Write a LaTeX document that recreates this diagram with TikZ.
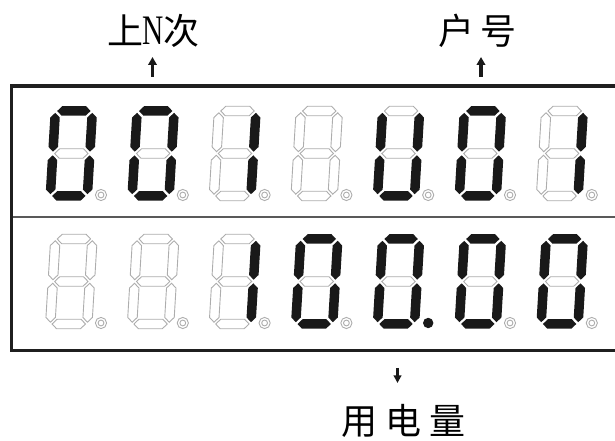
\documentclass[tikz,border=0pt]{standalone}
\usepackage{fontspec}
\usetikzlibrary{arrows.meta}
\newfontfamily\cjk{Noto Sans CJK SC}
\newfontfamily\serifN{Liberation Serif}
\def\dL{5}\def\dR{42}\def\dB{5}\def\dM{47.5}\def\dT{90}\def\dh{4.75}\def\dg{1.8}
\newcommand\hseg[2]{\path[#1] ({\dL+\dg},#2) -- ({\dL+\dg+\dh},{#2+\dh}) -- ({\dR-\dg-\dh},{#2+\dh}) -- ({\dR-\dg},#2) -- ({\dR-\dg-\dh},{#2-\dh}) -- ({\dL+\dg+\dh},{#2-\dh}) -- cycle;}
\newcommand\vseg[4]{\path[#1] (#2,#3) -- ({#2+\dh},{#3+\dh}) -- ({#2+\dh},{#4-\dh}) -- (#2,#4) -- ({#2-\dh},{#4-\dh}) -- ({#2-\dh},{#3+\dh}) -- cycle;}
% #1 x, #2 y, #3..#9 styles of a b c d e f g
\newcommand\sevenseg[9]{%
\begin{scope}[shift={(#1,#2)},xslant=0.06]
\hseg{#3}{\dT}
\vseg{#4}{\dR}{\dM+\dg}{\dT-\dg}
\vseg{#5}{\dR}{\dB+\dg}{\dM-\dg}
\hseg{#6}{\dB}
\vseg{#7}{\dL}{\dB+\dg}{\dM-\dg}
\vseg{#8}{\dL}{\dM+\dg}{\dT-\dg}
\hseg{#9}{\dM}
\end{scope}}
\newcommand\ringdot[2]{\draw[ring] (#1+56,#2+6) circle (5.6) (#1+56,#2+6) circle (2.9);}
\newcommand\blackdot[2]{\fill[on] (#1+56,#2+6) circle (5.2);}
\tikzset{
  on/.style={fill=black!90,draw=none},
  off/.style={fill=white,draw=black!32,line width=0.9pt},
  ring/.style={draw=black!32,line width=0.9pt},
  frame/.style={draw=black!88,line width=3.6pt},
  divider/.style={draw=black!65,line width=1.8pt},
  arr/.style={-{Triangle[length=8pt,width=8.5pt]},line width=3.4pt,black!90},
  arrs/.style={-{Triangle[length=7.5pt,width=7.5pt]},line width=3.2pt,black!90},
  lbl/.style={inner sep=0pt,font=\fontsize{36}{40}\selectfont}
}
\begin{document}
\begin{tikzpicture}[x=1pt,y=1pt]
\useasboundingbox (0,0) rectangle (615,441);
\clip (0,0) rectangle (615,441);
% frame
\draw[frame] (630,354.7) -- (11.5,354.7) -- (11.5,90.5) -- (630,90.5);
\draw[divider] (13,224) -- (630,224);
% top row
\def\ty{240}
\sevenseg{45}{\ty}{on}{on}{on}{on}{on}{on}{off}
\sevenseg{126.8}{\ty}{on}{on}{on}{on}{on}{on}{off}
\sevenseg{208.6}{\ty}{off}{on}{on}{off}{off}{off}{off}
\sevenseg{290.4}{\ty}{off}{off}{off}{off}{off}{off}{off}
\sevenseg{372.2}{\ty}{off}{on}{on}{on}{on}{on}{off}
\sevenseg{454}{\ty}{on}{on}{on}{on}{on}{on}{off}
\sevenseg{535.8}{\ty}{off}{on}{on}{off}{off}{off}{off}
\foreach \x in {45,126.8,208.6,290.4,372.2,454,535.8}{\ringdot{\x}{\ty}}
% bottom row
\def\by{112}
\sevenseg{45}{\by}{off}{off}{off}{off}{off}{off}{off}
\sevenseg{126.8}{\by}{off}{off}{off}{off}{off}{off}{off}
\sevenseg{208.6}{\by}{off}{on}{on}{off}{off}{off}{off}
\sevenseg{290.4}{\by}{on}{on}{on}{on}{on}{on}{off}
\sevenseg{372.2}{\by}{on}{on}{on}{on}{on}{on}{off}
\sevenseg{454}{\by}{on}{on}{on}{on}{on}{on}{off}
\sevenseg{535.8}{\by}{on}{on}{on}{on}{on}{on}{off}
\foreach \x in {45,126.8,208.6,290.4,454,535.8}{\ringdot{\x}{\by}}
\blackdot{372.2}{\by}
% labels
\node[lbl,anchor=base] (lastN) at (153.5,396) {{\cjk 上}\hspace{-1pt}\scalebox{0.7}[1]{\fontsize{42}{44}\selectfont\serifN N}\hspace{-1pt}{\cjk 次}};
\node[lbl,anchor=base] (user) at (477.5,396) {{\cjk 户}\hspace{7pt}{\cjk 号}};
\node[lbl,anchor=base] (energy) at (403.5,6) {{\cjk 用}\hspace{8pt}{\cjk 电}\hspace{8pt}{\cjk 量}};
% arrows
\coordinate (aN1) at (152.5,364); \coordinate (aN2) at (152.5,384);
\coordinate (aU1) at (481,364); \coordinate (aU2) at (481,384);
\coordinate (aE1) at (397.5,73); \coordinate (aE2) at (397.5,58);
\draw[arr] (aN1) -- (aN2);
\draw[arr] (aU1) -- (aU2);
\draw[arrs] (aE1) -- (aE2);
\end{tikzpicture}
\end{document}
